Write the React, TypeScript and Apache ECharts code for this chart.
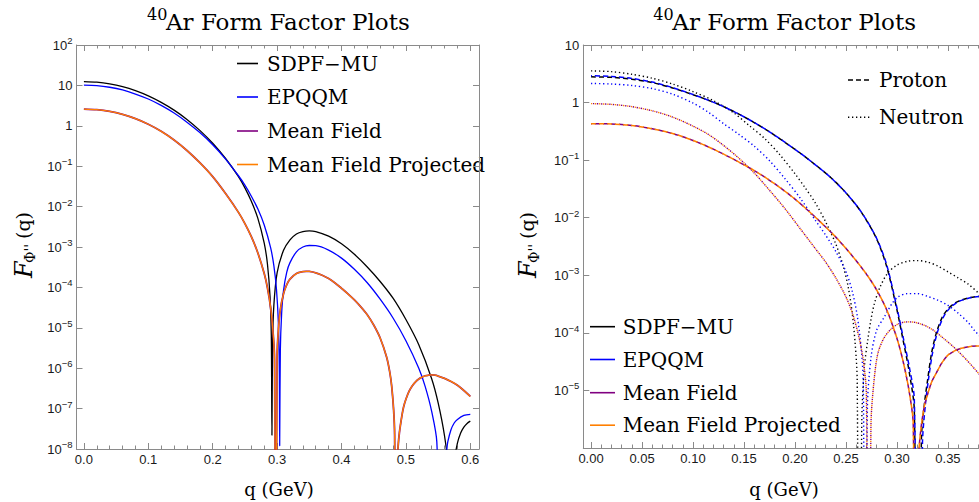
import React, { useEffect, useRef } from 'react';
import * as echarts from 'echarts';

// ---------- tick values ----------
const leftXMajor = [0, 0.1, 0.2, 0.3, 0.4, 0.5, 0.6];
const leftXMinor = [0.02, 0.04, 0.06, 0.08, 0.12, 0.14, 0.16, 0.18, 0.22, 0.24, 0.26, 0.28, 0.32, 0.34, 0.36, 0.38, 0.42, 0.44, 0.46, 0.48, 0.52, 0.54, 0.56, 0.58];
const rightXMajor = [0, 0.05, 0.1, 0.15, 0.2, 0.25, 0.3, 0.35];
const rightXMinor = [0.01, 0.02, 0.03, 0.04, 0.06, 0.07, 0.08, 0.09, 0.11, 0.12, 0.13, 0.14, 0.16, 0.17, 0.18, 0.19, 0.21, 0.22, 0.23, 0.24, 0.26, 0.27, 0.28, 0.29, 0.31, 0.32, 0.33, 0.34, 0.36, 0.37, 0.38];
const leftYTicks = [1e-8, 1e-7, 1e-6, 1e-5, 1e-4, 1e-3, 1e-2, 1e-1, 1, 10, 100];
const rightYTicks = [1e-6, 1e-5, 1e-4, 1e-3, 1e-2, 1e-1, 1, 10];
const rightYLabels = [1e-5, 1e-4, 1e-3, 1e-2, 1e-1, 1, 10];

// ---------- left panel: total form factor ----------
const sdpfLeft: [number, number][] = [
  [0, 12.4], [0.02, 12.0], [0.04, 10.9], [0.06, 9.3], [0.08, 7.4], [0.10, 5.5], [0.12, 3.8], [0.14, 2.44],
  [0.16, 1.44], [0.18, 0.77], [0.20, 0.37], [0.22, 0.155], [0.24, 0.055], [0.25, 0.029], [0.26, 0.0135],
  [0.27, 5.2e-3], [0.28, 1.25e-3], [0.285, 3.8e-4], [0.289, 6e-5], [0.291, 6.5e-6], [0.292, 2.2e-8],
  [0.293, 4.4e-6], [0.295, 3.7e-5], [0.30, 2.3e-4], [0.31, 8.3e-4], [0.32, 1.5e-3], [0.33, 2.1e-3],
  [0.34, 2.4e-3], [0.35, 2.5e-3], [0.36, 2.4e-3], [0.38, 1.85e-3], [0.40, 1.2e-3], [0.42, 6.6e-4],
  [0.44, 3.2e-4], [0.46, 1.4e-4], [0.48, 5.4e-5], [0.50, 1.6e-5], [0.52, 3.8e-6], [0.54, 5.5e-7],
  [0.55, 1.4e-7], [0.56, 2.1e-8], [0.565, 4e-9], [0.570, 1e-12], [0.575, 4.5e-9], [0.58, 1.4e-8],
  [0.585, 2.5e-8], [0.59, 3.5e-8], [0.595, 4.3e-8], [0.6, 4.9e-8],
];
const epqqmLeft: [number, number][] = [
  [0, 10.2], [0.02, 9.9], [0.04, 9.0], [0.06, 7.7], [0.08, 6.1], [0.10, 4.6], [0.12, 3.2], [0.14, 2.07],
  [0.16, 1.23], [0.18, 0.68], [0.20, 0.34], [0.22, 0.15], [0.24, 0.058], [0.25, 0.034], [0.26, 0.018],
  [0.27, 8.8e-3], [0.28, 3.5e-3], [0.29, 9.5e-4], [0.295, 3.4e-4], [0.299, 9e-5], [0.302, 1.3e-5],
  [0.3035, 8e-7], [0.304, 1.2e-8], [0.305, 2.7e-6], [0.307, 2.2e-5], [0.31, 8.5e-5], [0.315, 2.4e-4],
  [0.32, 4.1e-4], [0.33, 7.6e-4], [0.34, 1.0e-3], [0.35, 1.09e-3], [0.36, 1.08e-3], [0.38, 8.4e-4],
  [0.40, 5.3e-4], [0.42, 2.8e-4], [0.44, 1.3e-4], [0.46, 5.1e-5], [0.48, 1.75e-5], [0.50, 4.8e-6],
  [0.52, 1.0e-6], [0.53, 3.5e-7], [0.54, 8.5e-8], [0.548, 1.5e-8], [0.556, 1e-12], [0.56, 2e-9],
  [0.5636, 1e-8], [0.565, 1.5e-8], [0.57, 3e-8], [0.575, 4.4e-8], [0.58, 5.4e-8], [0.59, 6.8e-8], [0.6, 7.2e-8],
];
const meanFieldLeft: [number, number][] = [
  [0, 2.6], [0.02, 2.51], [0.04, 2.27], [0.06, 1.91], [0.08, 1.5], [0.10, 1.09], [0.12, 0.73], [0.14, 0.445],
  [0.16, 0.245], [0.18, 0.122], [0.20, 0.055], [0.22, 0.021], [0.24, 7.2e-3], [0.25, 3.8e-3], [0.26, 1.8e-3],
  [0.27, 7.2e-4], [0.28, 2.2e-4], [0.285, 9.8e-5], [0.29, 3.1e-5], [0.294, 6.7e-6], [0.296, 1.7e-6],
  [0.298, 1e-12], [0.300, 2e-6], [0.302, 9e-6], [0.305, 2.8e-5], [0.31, 7e-5], [0.315, 1.17e-4],
  [0.32, 1.6e-4], [0.33, 2.2e-4], [0.34, 2.45e-4], [0.345, 2.5e-4], [0.35, 2.48e-4], [0.36, 2.3e-4],
  [0.37, 2.0e-4], [0.38, 1.66e-4], [0.39, 1.29e-4], [0.40, 9.5e-5], [0.41, 6.9e-5], [0.42, 4.9e-5],
  [0.43, 3.3e-5], [0.44, 2.1e-5], [0.45, 1.17e-5], [0.46, 5.6e-6], [0.47, 1.9e-6], [0.475, 7.9e-7],
  [0.478, 3.5e-7], [0.481, 8.9e-8], [0.4825, 2.2e-8], [0.484, 1e-12], [0.486, 3e-9], [0.488, 1.2e-8],
  [0.49, 2.6e-8], [0.494, 7e-8], [0.4964, 1.1e-7], [0.50, 1.7e-7], [0.505, 2.7e-7], [0.51, 3.7e-7],
  [0.515, 4.6e-7], [0.52, 5.4e-7], [0.525, 6.0e-7], [0.53, 6.5e-7], [0.535, 6.7e-7], [0.54, 6.8e-7],
  [0.545, 6.7e-7], [0.55, 6.4e-7], [0.56, 5.6e-7], [0.57, 4.7e-7], [0.58, 3.8e-7], [0.59, 2.8e-7], [0.6, 2.0e-7],
];
const mfProjLeft: [number, number][] = meanFieldLeft.map((p) => [p[0], p[1]]);

// ---------- right panel: proton (dashed) / neutron (dotted) ----------
const sdpfProton: [number, number][] = [
  [0, 2.8], [0.02, 2.74], [0.04, 2.55], [0.06, 2.22], [0.08, 1.79], [0.10, 1.37], [0.115, 1.1], [0.13, 0.85],
  [0.145, 0.63], [0.16, 0.45], [0.175, 0.31], [0.19, 0.205], [0.205, 0.133], [0.22, 0.083], [0.235, 0.05],
  [0.25, 0.027], [0.265, 0.0125], [0.28, 4.3e-3], [0.29, 1.4e-3], [0.30, 2.5e-4], [0.306, 7.5e-5],
  [0.312, 2.1e-5], [0.317, 4.5e-6], [0.3205, 1e-12], [0.324, 1.5e-6], [0.327, 6e-6], [0.330, 1.5e-5],
  [0.334, 4.5e-5], [0.3385, 9.8e-5], [0.344, 1.8e-4], [0.35, 2.6e-4], [0.357, 3.3e-4], [0.363, 3.7e-4],
  [0.372, 4.1e-4], [0.38, 4.3e-4], [0.39, 4.4e-4], [0.40, 4.3e-4],
];
const epqqmProton: [number, number][] = [
  [0, 2.92], [0.02, 2.85], [0.04, 2.63], [0.06, 2.27], [0.08, 1.82], [0.10, 1.38], [0.115, 1.1], [0.13, 0.85],
  [0.145, 0.63], [0.16, 0.45], [0.175, 0.31], [0.19, 0.205], [0.205, 0.133], [0.22, 0.083], [0.235, 0.05],
  [0.25, 0.027], [0.265, 0.0126], [0.28, 4.4e-3], [0.29, 1.5e-3], [0.30, 2.7e-4], [0.306, 8.5e-5],
  [0.312, 2.6e-5], [0.317, 7e-6], [0.3222, 1e-12], [0.325, 1.2e-6], [0.328, 6e-6], [0.331, 1.6e-5],
  [0.335, 4.6e-5], [0.3395, 1e-4], [0.345, 1.8e-4], [0.351, 2.6e-4], [0.358, 3.3e-4], [0.364, 3.7e-4],
  [0.373, 4.1e-4], [0.381, 4.3e-4], [0.39, 4.4e-4], [0.40, 4.35e-4],
];
const meanFieldProton: [number, number][] = [
  [0, 0.43], [0.02, 0.425], [0.04, 0.40], [0.06, 0.35], [0.08, 0.29], [0.10, 0.22], [0.12, 0.155], [0.14, 0.103],
  [0.16, 0.066], [0.18, 0.039], [0.20, 0.021], [0.22, 0.0102], [0.24, 4.6e-3], [0.255, 2.3e-3], [0.27, 1.05e-3],
  [0.28, 5.6e-4], [0.29, 2.5e-4], [0.30, 8e-5], [0.306, 3.2e-5], [0.312, 9.5e-6], [0.316, 2.5e-6], [0.3185, 1e-12],
  [0.3215, 8e-7], [0.3237, 2.3e-6], [0.327, 5.5e-6], [0.330, 8.5e-6], [0.334, 1.4e-5], [0.3385, 2.0e-5],
  [0.344, 3.0e-5], [0.350, 4.1e-5], [0.357, 4.9e-5], [0.363, 5.4e-5], [0.372, 5.8e-5], [0.38, 5.9e-5],
  [0.39, 5.9e-5], [0.40, 5.7e-5],
];
const mfProjProton: [number, number][] = meanFieldProton.map((p) => [p[0], p[1]]);

const sdpfNeutron: [number, number][] = [
  [0, 3.55], [0.02, 3.45], [0.04, 3.1], [0.06, 2.65], [0.08, 2.1], [0.10, 1.55], [0.12, 1.08], [0.14, 0.66],
  [0.155, 0.40], [0.17, 0.24], [0.185, 0.125], [0.20, 0.058], [0.21, 0.033], [0.22, 0.018], [0.23, 8.5e-3],
  [0.24, 3.5e-3], [0.247, 1.5e-3], [0.252, 6.5e-4], [0.256, 2.3e-4], [0.259, 6.5e-5], [0.261, 1.5e-5],
  [0.263, 1e-12], [0.2655, 3e-6], [0.268, 2.5e-5], [0.2713, 7.4e-5], [0.2745, 1.7e-4], [0.2778, 3.2e-4],
  [0.283, 6e-4], [0.291, 1.1e-3], [0.30, 1.5e-3], [0.31, 1.75e-3], [0.32, 1.8e-3], [0.33, 1.7e-3],
  [0.34, 1.45e-3], [0.35, 1.15e-3], [0.36, 9e-4], [0.37, 7e-4], [0.38, 4.9e-4], [0.39, 3.4e-4], [0.40, 2.3e-4],
];
const epqqmNeutron: [number, number][] = [
  [0, 2.15], [0.02, 2.1], [0.04, 1.98], [0.06, 1.75], [0.08, 1.4], [0.10, 0.98], [0.115, 0.68], [0.13, 0.43],
  [0.145, 0.28], [0.16, 0.175], [0.175, 0.098], [0.19, 0.048], [0.205, 0.022], [0.22, 9e-3], [0.23, 5e-3],
  [0.24, 2.6e-3], [0.25, 1.15e-3], [0.256, 5.4e-4], [0.261, 2e-4], [0.265, 5.1e-5], [0.267, 1.3e-5],
  [0.269, 1e-12], [0.271, 5e-6], [0.2746, 3.8e-5], [0.28, 1.1e-4], [0.2877, 1.9e-4], [0.295, 3.2e-4],
  [0.301, 4.2e-4], [0.31, 4.8e-4], [0.32, 4.8e-4], [0.33, 4.3e-4], [0.34, 3.7e-4], [0.35, 3.0e-4],
  [0.36, 2.2e-4], [0.37, 1.5e-4], [0.376, 1.1e-4], [0.39, 6e-5], [0.40, 3.5e-5],
];
const meanFieldNeutron: [number, number][] = [
  [0, 0.96], [0.02, 0.93], [0.04, 0.85], [0.06, 0.72], [0.08, 0.56], [0.10, 0.39], [0.115, 0.28], [0.13, 0.18],
  [0.145, 0.108], [0.16, 0.06], [0.175, 0.03], [0.19, 0.0145], [0.205, 6.5e-3], [0.22, 2.9e-3], [0.23, 1.7e-3],
  [0.24, 9e-4], [0.25, 4.2e-4], [0.257, 2e-4], [0.263, 8e-5], [0.267, 3.3e-5], [0.270, 9e-6], [0.2725, 1e-12],
  [0.2745, 2.5e-6], [0.277, 1.2e-5], [0.281, 4.2e-5], [0.287, 8e-5], [0.294, 1.15e-4], [0.302, 1.45e-4],
  [0.31, 1.55e-4], [0.318, 1.52e-4], [0.327, 1.35e-4], [0.336, 1.1e-4], [0.345, 8.2e-5], [0.355, 5.8e-5],
  [0.365, 3.9e-5], [0.375, 2.5e-5], [0.385, 1.55e-5], [0.395, 9e-6], [0.40, 7e-6],
];
const mfProjNeutron: [number, number][] = meanFieldNeutron.map((p) => [p[0], p[1]]);

const modelNames = ['SDPF\u2212MU', 'EPQQM', 'Mean Field', 'Mean Field Projected'];
const modelColors = ['#000000', '#0000ff', '#800080', '#ff7f00'];

// ---------- styling ----------
const SERIF = "'DejaVu Serif', serif";
const SANS = "'Liberation Sans', Arial, sans-serif";
const FRAME = '#8a8a8a';
const LABEL = '#1a1a1a';
const DASH = [5, 3];
const DOT = [1.3, 2.7];

function logLabel(v: number): string {
  const e = Math.round(Math.log10(v));
  if (e === 0) return '{b|1}';
  if (e === 1) return '{b|10}';
  return '{b|10}{s|' + (e < 0 ? '\u2212' + -e : String(e)) + '}';
}
const logRich = {
  b: { fontSize: 13, fontFamily: SANS, color: LABEL, lineHeight: 16, verticalAlign: 'bottom' },
  s: { fontSize: 9.5, fontFamily: SANS, color: LABEL, verticalAlign: 'top' },
};

function txt(x: number, y: number, text: string, size: number, align: string, extra: any = {}) {
  return {
    type: 'text', x, y,
    style: {
      text, fontSize: size, fontFamily: SERIF, fill: '#000',
      align, textAlign: align, verticalAlign: 'middle', textVerticalAlign: 'middle', ...extra,
    },
  };
}

function xAxisDef(gridIndex: number, min: number, max: number, position: string, ticks: number[], len: number, labels: number[] | null, digits: number, showLine: boolean) {
  return {
    type: 'value', gridIndex, min, max, position,
    axisLine: { show: showLine, onZero: false, lineStyle: { color: FRAME, width: 1 } },
    axisTick: { show: true, inside: true, length: len, customValues: ticks, lineStyle: { color: FRAME, width: 1 } },
    axisLabel: labels
      ? { show: true, customValues: labels, formatter: (v: number) => v.toFixed(digits), margin: 4, fontSize: 13, fontFamily: SANS, color: LABEL }
      : { show: false },
    splitLine: { show: false }, minorTick: { show: false }, minorSplitLine: { show: false },
  };
}
function yLogDef(gridIndex: number, min: number, max: number, position: string, ticks: number[], labels: number[] | null) {
  return {
    type: 'log', logBase: 10, gridIndex, min, max, position,
    axisLine: { show: true, onZero: false, lineStyle: { color: FRAME, width: 1 } },
    axisTick: { show: true, inside: true, length: 6, customValues: ticks, lineStyle: { color: FRAME, width: 1 } },
    axisLabel: labels
      ? { show: true, customValues: labels, formatter: logLabel, rich: logRich, padding: [0, 0, 3, 0], margin: 4, fontSize: 13, fontFamily: SANS, color: LABEL }
      : { show: false },
    splitLine: { show: false }, minorTick: { show: false }, minorSplitLine: { show: false },
  };
}
function lineSeries(name: string, data: [number, number][], color: string, xi: number, yi: number, width: number, type: any, offset: number) {
  return {
    type: 'line', name, data, xAxisIndex: xi, yAxisIndex: yi, symbol: 'none', showSymbol: false,
    smooth: 0.3, silent: true, clip: true,
    lineStyle: { color, width, type, dashOffset: offset, cap: 'butt' },
    emphasis: { disabled: true },
  };
}

function legendRows(x1: number, x2: number, tx: number, ys: number[]) {
  const els: any[] = [];
  modelNames.forEach((n, i) => {
    els.push({ type: 'line', shape: { x1, y1: ys[i], x2, y2: ys[i] }, style: { stroke: modelColors[i], lineWidth: 1.6 } });
    els.push(txt(tx, ys[i], n, 20, 'left'));
  });
  return els;
}
function yTitle(cx: number, cy: number) {
  return {
    type: 'group', x: cx, y: cy, rotation: Math.PI / 2,
    children: [
      txt(-38, 0, 'F', 24, 'left', { fontStyle: 'italic' }),
      txt(-23, 6, "\u03A6''", 14, 'left'),
      txt(1, -1, '(q)', 19, 'left'),
    ],
  };
}
function title(x40: number) {
  return [txt(x40, 14.5, '40', 16, 'left'), txt(x40 + 19, 21.5, 'Ar Form Factor Plots', 23, 'left')];
}

export default function App() {
  const ref = useRef<HTMLDivElement>(null);
  useEffect(() => {
    if (!ref.current) return;
    document.body.style.margin = '0';
    const chart = echarts.init(ref.current, null, { renderer: 'svg' });
    const gL = { left: 76.5, top: 45, width: 402.5, height: 404 };
    const gR = { left: 583.3, top: 45, width: 403, height: 403 };
    const LX: [number, number] = [-0.0115, 0.6135];
    const RX: [number, number] = [-0.0076, 0.3876];
    const option: any = {
      animation: false,
      backgroundColor: '#ffffff',
      tooltip: { show: false },
      grid: [
        { ...gL, show: false, containLabel: false, outerBoundsMode: 'none' },
        { ...gL, show: false, containLabel: false, outerBoundsMode: 'none' },
        { ...gR, show: false, containLabel: false, outerBoundsMode: 'none' },
        { ...gR, show: false, containLabel: false, outerBoundsMode: 'none' },
      ],
      xAxis: [
        xAxisDef(0, LX[0], LX[1], 'bottom', leftXMajor, 6, leftXMajor, 1, true),
        xAxisDef(0, LX[0], LX[1], 'top', leftXMajor, 6, null, 1, true),
        xAxisDef(1, LX[0], LX[1], 'bottom', leftXMinor, 3.5, null, 1, false),
        xAxisDef(1, LX[0], LX[1], 'top', leftXMinor, 3.5, null, 1, false),
        xAxisDef(2, RX[0], RX[1], 'bottom', rightXMajor, 6, rightXMajor, 2, true),
        xAxisDef(2, RX[0], RX[1], 'top', rightXMajor, 6, null, 2, true),
        xAxisDef(3, RX[0], RX[1], 'bottom', rightXMinor, 3.5, null, 2, false),
        xAxisDef(3, RX[0], RX[1], 'top', rightXMinor, 3.5, null, 2, false),
      ],
      yAxis: [
        yLogDef(0, 1e-8, 100, 'left', leftYTicks, leftYTicks),
        yLogDef(0, 1e-8, 100, 'right', leftYTicks, null),
        { type: 'value', gridIndex: 1, show: false },
        yLogDef(2, 1e-6, 10, 'left', rightYTicks, rightYLabels),
        yLogDef(2, 1e-6, 10, 'right', rightYTicks, null),
        { type: 'value', gridIndex: 3, show: false },
      ],
      series: [
        lineSeries('SDPF-MU', sdpfLeft, modelColors[0], 0, 0, 1.3, 'solid', 0),
        lineSeries('EPQQM', epqqmLeft, modelColors[1], 0, 0, 1.3, 'solid', 0),
        lineSeries('Mean Field', meanFieldLeft, modelColors[2], 0, 0, 1.8, 'solid', 0),
        lineSeries('Mean Field Projected', mfProjLeft, modelColors[3], 0, 0, 1.3, 'solid', 0),
        lineSeries('SDPF-MU neutron', sdpfNeutron, modelColors[0], 4, 3, 1.4, DOT, 0),
        lineSeries('EPQQM neutron', epqqmNeutron, modelColors[1], 4, 3, 1.4, DOT, 0),
        lineSeries('Mean Field neutron', meanFieldNeutron, modelColors[2], 4, 3, 1.4, DOT, 2),
        lineSeries('Mean Field Projected neutron', mfProjNeutron, modelColors[3], 4, 3, 1.4, DOT, 0),
        lineSeries('SDPF-MU proton', sdpfProton, modelColors[0], 4, 3, 1.5, DASH, 0),
        lineSeries('EPQQM proton', epqqmProton, modelColors[1], 4, 3, 1.5, DASH, 4),
        lineSeries('Mean Field proton', meanFieldProton, modelColors[2], 4, 3, 1.5, DASH, 4),
        lineSeries('Mean Field Projected proton', mfProjProton, modelColors[3], 4, 3, 1.5, DASH, 0),
      ],
      graphic: [
        ...title(147),
        ...title(653.3),
        yTitle(24, 240),
        yTitle(528, 240),
        txt(279, 489, 'q (GeV)', 18, 'center'),
        txt(784, 489, 'q (GeV)', 18, 'center'),
        ...legendRows(237, 258, 267, [63.5, 97, 131, 164.5]),
        ...legendRows(590, 615, 622.7, [326.7, 359.5, 392.7, 425.2]),
        { type: 'line', shape: { x1: 848, y1: 80, x2: 871, y2: 80 }, style: { stroke: '#000', lineWidth: 1.5, lineDash: DASH } },
        txt(879, 80, 'Proton', 20, 'left'),
        { type: 'line', shape: { x1: 848, y1: 117.3, x2: 871, y2: 117.3 }, style: { stroke: '#000', lineWidth: 1.4, lineDash: DOT } },
        txt(879, 117.3, 'Neutron', 20, 'left'),
      ],
    };
    chart.setOption(option);
    return () => chart.dispose();
  }, []);
  return (
    <div style={{ position: 'fixed', left: 0, top: 0, width: 979, height: 502, overflow: 'hidden', background: '#fff' }}>
      <div ref={ref} style={{ width: 979, height: 502 }} />
    </div>
  );
}
